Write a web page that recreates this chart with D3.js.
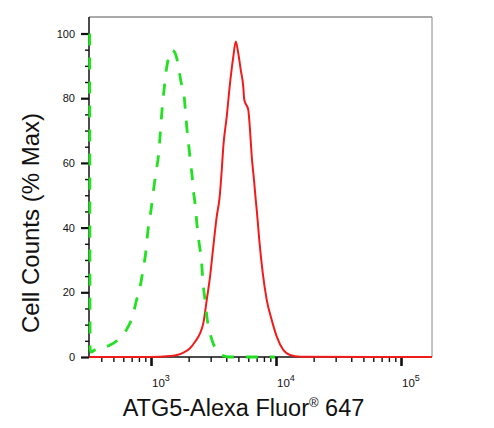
<!DOCTYPE html>
<html lang="en">
<head>
  <meta charset="UTF-8">
  <title>ATG5 flow histogram</title>
  <script src="https://cdn.jsdelivr.net/npm/d3@7"></script>
  <style>
    body { margin: 0; background: #fff; }
    text { font-family: "Liberation Sans", Arial, sans-serif; fill: #111; }
  </style>
</head>
<body>
<div id="chart"></div>
<script type="text/javascript">
  // isotype control (green dashed) and ATG5 stained (red) histograms, x = intensity, y = % max
  var controlX = [323, 326, 331, 356, 405, 470, 565, 655, 718, 759, 817, 863, 912, 946, 1000, 1047, 1096, 1148, 1180, 1225, 1271, 1318, 1393, 1472, 1556, 1644, 1738, 1837, 1888, 1941, 2014, 2070, 2128, 2188, 2249, 2333, 2421, 2535, 2606, 2704, 2805, 2965, 3133, 3373, 3698, 4285, 9800];
  var controlY = [100, 2.5, 1.5, 2.2, 2.8, 3.7, 5.9, 9.3, 13, 17, 21.6, 26.9, 33, 39.3, 45.4, 51.6, 57.2, 62.4, 68, 76.4, 82.5, 88.1, 93, 94.9, 94, 90.6, 85, 81, 75.7, 70.2, 64.6, 60, 56.3, 51, 47.6, 40.8, 35.5, 29.4, 22.9, 17.6, 12.1, 7.4, 4.3, 1.9, 0.5, 0, 0];

  var atg5X = [319, 982, 1419, 1614, 1803, 2051, 2249, 2466, 2620, 2790, 2965, 3150, 3354, 3532, 3681, 3786, 4034, 4285, 4552, 4764, 4989, 5224, 5470, 5572, 5998, 6194, 6397, 6668, 6887, 7015, 7345, 7834, 8433, 9247, 10139, 11432, 12942, 15560, 177000];
  var atg5Y = [0, 0, 0.3, 0.6, 1.3, 2.7, 4.7, 7.3, 10.4, 17.6, 24.8, 34.1, 43.4, 49.1, 57.8, 65, 74.3, 84.6, 92.8, 97.5, 93.9, 88.7, 83.6, 79.5, 76.4, 70.2, 61.9, 54.7, 48.5, 45.4, 36.2, 25.9, 17.6, 11.4, 6.3, 2.2, 0.6, 0.1, 0];

  var yMajor = [0, 20, 40, 60, 80, 100];
  var xDecades = [1000, 10000, 100000];
  var xDecadeExp = ["3", "4", "5"];

  var width = 494, height = 428;
  var pLeft = 89, pRight = 432, pTop = 17, pBottom = 357;

  var x = d3.scaleLog().domain([319, 177000]).range([pLeft, pRight]);
  var y = d3.scaleLinear().domain([0, 100]).range([357, 33.5]);

  var svg = d3.select("#chart").append("svg")
      .attr("width", width)
      .attr("height", height);

  // frame: grey top/right, black axes
  svg.append("line").attr("x1", pLeft).attr("x2", pRight).attr("y1", pTop).attr("y2", pTop)
      .attr("stroke", "#555").attr("stroke-width", 1);
  svg.append("line").attr("x1", pRight).attr("x2", pRight).attr("y1", pTop).attr("y2", pBottom)
      .attr("stroke", "#888").attr("stroke-width", 1);

  // y axis
  var yMinor = d3.range(0, 101, 5).filter(function(v) { return v % 20 !== 0; });
  var gy = svg.append("g").attr("transform", "translate(" + pLeft + ",0)")
      .call(d3.axisLeft(y).tickValues(yMajor).tickSize(8).tickPadding(6));
  gy.select(".domain").remove();
  gy.selectAll(".tick line").attr("stroke", "#111").attr("stroke-width", 2.2);
  gy.selectAll(".tick text").attr("fill", "#111")
      .style("font-size", "11px").style("font-family", "Liberation Sans, Arial, sans-serif");
  var gyMinor = svg.append("g").attr("transform", "translate(" + pLeft + ",0)")
      .call(d3.axisLeft(y).tickValues(yMinor).tickSize(4).tickFormat(""));
  gyMinor.select(".domain").remove();
  gyMinor.selectAll(".tick line").attr("stroke", "#111").attr("stroke-width", 1.4);
  svg.append("line").attr("x1", pLeft).attr("x2", pLeft).attr("y1", pTop).attr("y2", pBottom)
      .attr("stroke", "#111").attr("stroke-width", 1.5);

  // x axis, log decades + minor ticks
  var xMinor = [];
  [100, 1000, 10000, 100000].forEach(function(d) {
    for (var k = 2; k <= 9; k++) {
      var v = d * k;
      if (v > x.domain()[0] && v < x.domain()[1]) xMinor.push(v);
    }
  });
  var gxMinor = svg.append("g").attr("transform", "translate(0," + pBottom + ")")
      .call(d3.axisBottom(x).tickValues(xMinor).tickSize(5).tickFormat(""));
  gxMinor.select(".domain").remove();
  gxMinor.selectAll(".tick line").attr("stroke", "#111").attr("stroke-width", 1.4);
  var gx = svg.append("g").attr("transform", "translate(0," + pBottom + ")")
      .call(d3.axisBottom(x).tickValues(xDecades).tickSize(9).tickFormat(""));
  gx.select(".domain").remove();
  gx.selectAll(".tick line").attr("stroke", "#111").attr("stroke-width", 2.6);
  svg.append("line").attr("x1", pLeft).attr("x2", pRight).attr("y1", pBottom).attr("y2", pBottom)
      .attr("stroke", "#111").attr("stroke-width", 1.5);

  var xLab = svg.append("g").selectAll("text").data(xDecades).enter().append("text")
      .attr("x", function(d) { return x(d) + 1; })
      .attr("y", 387)
      .style("font-size", "11.5px");
  xLab.append("tspan").text("10");
  xLab.append("tspan").attr("dy", -6).style("font-size", "9px")
      .text(function(d, i) { return xDecadeExp[i]; });

  // curves
  svg.append("defs").append("clipPath").attr("id", "plot")
      .append("rect").attr("x", pLeft - 2).attr("y", pTop)
      .attr("width", pRight - pLeft + 2).attr("height", pBottom - pTop + 2);

  var line = d3.line()
      .x(function(d) { return x(d[0]); })
      .y(function(d) { return y(d[1]); })
      .curve(d3.curveMonotoneX);

  svg.append("path")
      .datum(d3.zip(atg5X, atg5Y))
      .attr("clip-path", "url(#plot)")
      .attr("d", line)
      .attr("fill", "none")
      .attr("stroke", "#f01c1c")
      .attr("stroke-width", 2)
      .attr("stroke-linejoin", "round");

  svg.append("path")
      .datum(d3.zip(controlX, controlY))
      .attr("clip-path", "url(#plot)")
      .attr("d", line)
      .attr("fill", "none")
      .attr("stroke", "#22e022")
      .attr("stroke-width", 2.8)
      .attr("stroke-dasharray", "12,12");

  // axis titles
  var xt = svg.append("text")
      .attr("x", 243.5)
      .attr("y", 416)
      .attr("text-anchor", "middle")
      .style("font-size", "23.5px");
  xt.append("tspan").text("ATG5-Alexa Fluor");
  xt.append("tspan").attr("dy", -9).style("font-size", "13px").text("\u00AE");
  xt.append("tspan").attr("dy", 9).text(" 647");

  svg.append("text")
      .attr("transform", "translate(38.5,223) rotate(-90)")
      .attr("text-anchor", "middle")
      .style("font-size", "24px")
      .text("Cell Counts (% Max)");
</script>
</body>
</html>
